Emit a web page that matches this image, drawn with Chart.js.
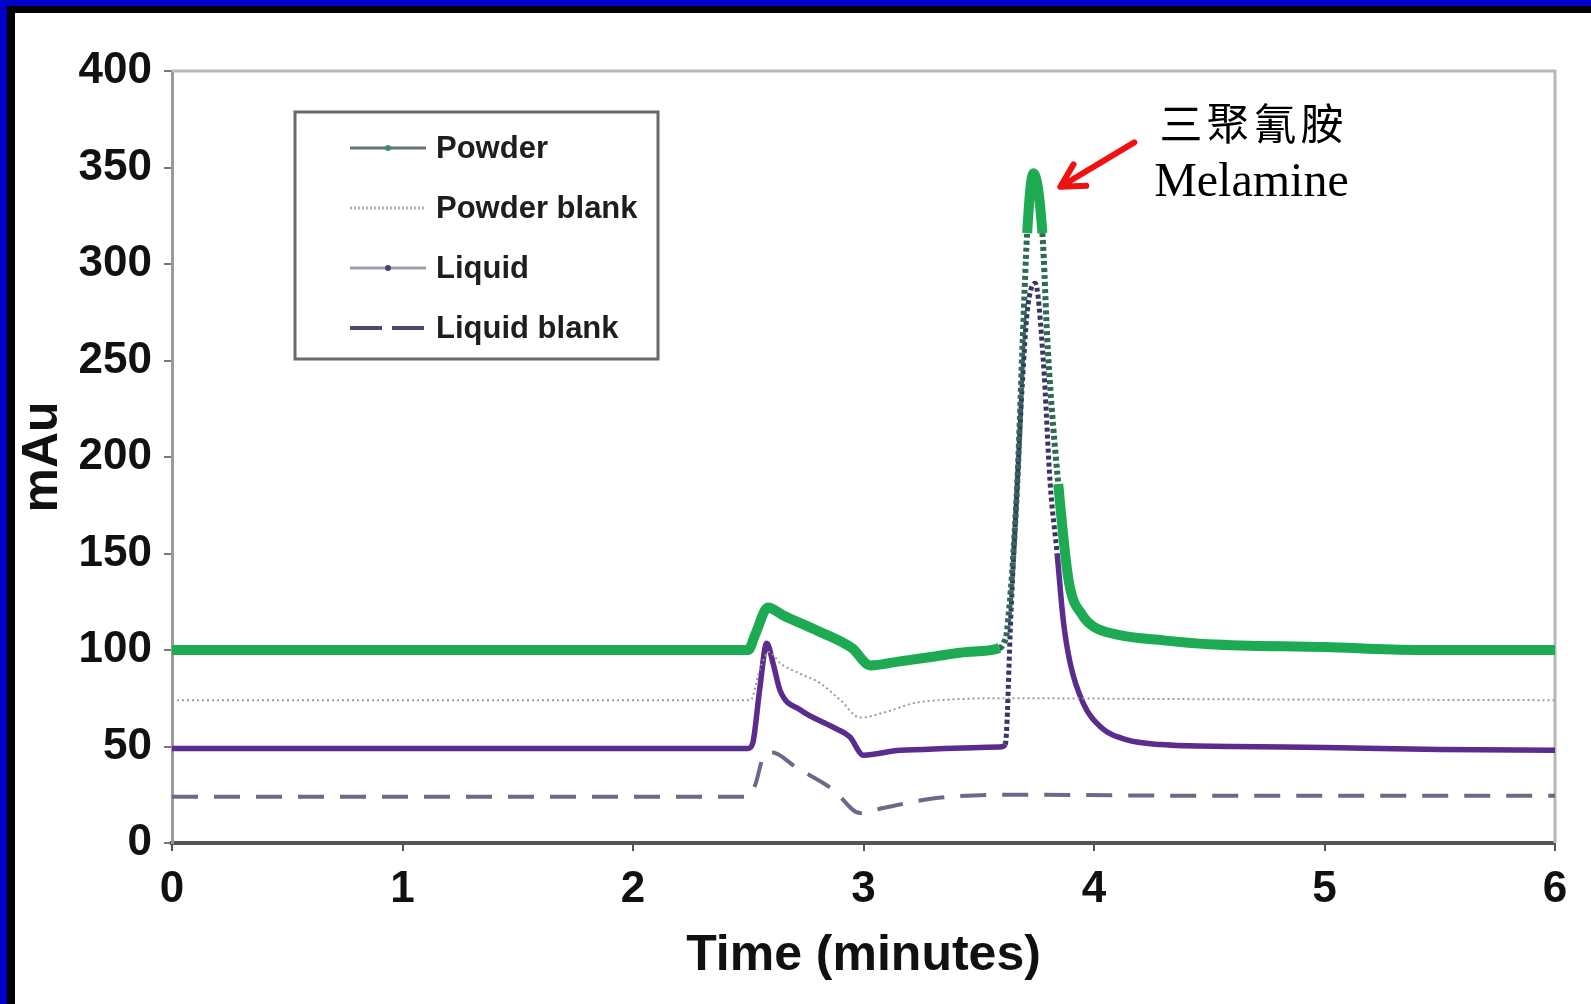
<!DOCTYPE html>
<html>
<head>
<meta charset="utf-8">
<script src="https://cdn.jsdelivr.net/npm/chart.js@4.4.1/dist/chart.umd.min.js"></script>
<style>
  html, body { margin: 0; padding: 0; background: #fff; overflow: hidden; }
  #wrap { position: absolute; left: 0; top: 0; width: 1591px; height: 1004px; }
  .edge { position: absolute; }
</style>
</head>
<body>
<div id="wrap"><canvas id="chart" width="1591" height="1004"></canvas></div>
<div class="edge" style="left:0;top:0;width:1591px;height:6px;background:#0000c8"></div>
<div class="edge" style="left:7px;top:6px;width:1584px;height:7px;background:#000"></div>
<div class="edge" style="left:0;top:0;width:7px;height:1004px;background:#0000c8"></div>
<div class="edge" style="left:7px;top:6px;width:8px;height:998px;background:#000"></div>
<script>
const xTicks = [0, 1, 2, 3, 4, 5, 6];
const yTicks = [0, 50, 100, 150, 200, 250, 300, 350, 400];

const seriesNames = ['Powder', 'Powder blank', 'Liquid', 'Liquid blank'];

const powderTime = [0, 2.50, 2.53, 2.586, 2.65, 2.80, 2.95, 3.03, 3.15, 3.30, 3.45, 3.59, 3.61, 3.623,
  3.667, 3.689, 3.71, 3.737, 3.776, 3.80, 3.845, 3.89, 3.95, 4.00, 4.10, 4.30, 4.50, 5.00, 5.40, 6.00];
const powderValues = [100, 100, 108, 122, 118, 110, 101, 92, 94, 96.5, 99, 101, 104, 110,
  186, 255, 316, 347, 316, 255, 186, 136, 118, 112, 108, 105, 103, 101.5, 100, 100];

const powderBlankTime = [0, 2.51, 2.55, 2.59, 2.64, 2.72, 2.81, 2.90, 2.985, 3.10, 3.22, 3.33, 3.60, 4.50, 6.00];
const powderBlankValues = [74, 74, 90, 99, 93, 88, 83, 74, 65, 68, 72.5, 74, 75, 74.5, 74];

const liquidTime = [0, 2.50, 2.52, 2.55, 2.58, 2.61, 2.638, 2.725, 2.868, 2.94, 3.00, 3.16, 3.59, 3.615,
  3.64, 3.667, 3.69, 3.71, 3.745, 3.78, 3.81, 3.84, 3.867, 3.897, 3.953, 4.03, 4.14, 4.29, 4.60, 5.00, 5.50, 6.00];
const liquidValues = [49, 49, 52, 80, 103.5, 92, 79, 69, 60, 55, 45.5, 48, 49.7, 51,
  120, 186, 240, 275, 290, 250, 186, 150, 115, 93, 72.5, 60, 53.5, 51, 50, 49.5, 48.5, 48];

const liquidBlankTime = [0, 2.50, 2.53, 2.565, 2.60, 2.71, 2.87, 2.985, 3.08, 3.30, 3.60, 4.50, 6.00];
const liquidBlankValues = [24, 24, 30, 44.5, 47, 39, 27.5, 15.5, 18, 23, 25, 24.5, 24.5];

function points(xs, ys) {
  return xs.map((x, i) => ({ x: x, y: ys[i] }));
}

// steep flanks of the melamine peak were drawn with dark markers
function onPeakFlank(ctx, low, rightLow) {
  const a = ctx.p0.parsed, b = ctx.p1.parsed;
  if (a.x < 3.55 || b.x > 3.95) return false;
  const lo = Math.min(a.y, b.y), hi = Math.max(a.y, b.y);
  if (hi > 335) return false;
  const isRight = a.y > b.y;
  return lo >= (isRight ? rightLow : low);
}

const tickFont = { family: 'Liberation Sans, Arial, sans-serif', size: 44, weight: 'bold' };
const titleFont = { family: 'Liberation Sans, Arial, sans-serif', size: 50, weight: 'bold' };

const frame = {
  id: 'frame',
  beforeDatasetsDraw(chart) {
    const { ctx, chartArea: a } = chart;
    ctx.save();
    ctx.strokeStyle = '#b8b8b8';
    ctx.lineWidth = 3;
    ctx.beginPath();
    ctx.moveTo(a.left, a.top);
    ctx.lineTo(a.right, a.top);
    ctx.lineTo(a.right, a.bottom);
    ctx.stroke();
    ctx.restore();
  }
};

const boxedLegend = {
  id: 'boxedLegend',
  afterDraw(chart) {
    const ctx = chart.ctx;
    const names = chart.data.datasets.map(d => d.label);
    const samples = [
      { color: '#66746e', width: 3, dash: [], mark: '#3d8f66' },
      { color: '#b0b0b0', width: 3, dash: [2, 2] },
      { color: '#a0a0ac', width: 3, dash: [], mark: '#4a3f7a' },
      { color: '#4e4a6c', width: 4, dash: [32, 10] }
    ];
    ctx.save();
    ctx.fillStyle = '#fff';
    ctx.fillRect(295, 112, 363, 247);
    ctx.strokeStyle = '#6a6a6a';
    ctx.lineWidth = 3;
    ctx.strokeRect(295, 112, 363, 247);
    ctx.font = 'bold 31px Liberation Sans, Arial, sans-serif';
    ctx.textBaseline = 'middle';
    names.forEach((name, i) => {
      const y = 148 + i * 60;
      const s = samples[i];
      ctx.strokeStyle = s.color;
      ctx.lineWidth = s.width;
      ctx.setLineDash(s.dash);
      ctx.beginPath();
      ctx.moveTo(350, y);
      ctx.lineTo(426, y);
      ctx.stroke();
      ctx.setLineDash([]);
      if (s.mark) {
        ctx.fillStyle = s.mark;
        ctx.beginPath();
        ctx.arc(388, y, 3, 0, Math.PI * 2);
        ctx.fill();
      }
      ctx.fillStyle = '#1e1e1e';
      ctx.fillText(name, 436, y + 1);
    });
    ctx.restore();
  }
};

const melamineNote = {
  id: 'melamineNote',
  afterDraw(chart) {
    const { ctx, scales: { x, y } } = chart;
    const tipX = x.getPixelForValue(3.854), tipY = y.getPixelForValue(340);
    const tailX = x.getPixelForValue(4.175), tailY = y.getPixelForValue(363);
    const ang = Math.atan2(tipY - tailY, tipX - tailX);
    ctx.save();
    ctx.strokeStyle = '#f01010';
    ctx.lineWidth = 6;
    ctx.lineCap = 'round';
    ctx.lineJoin = 'round';
    ctx.beginPath();
    ctx.moveTo(tailX, tailY);
    ctx.lineTo(tipX, tipY);
    const head = 26;
    ctx.moveTo(tipX + head * Math.cos(ang + Math.PI - 0.5), tipY + head * Math.sin(ang + Math.PI - 0.5));
    ctx.lineTo(tipX, tipY);
    ctx.lineTo(tipX + head * Math.cos(ang + Math.PI + 0.5), tipY + head * Math.sin(ang + Math.PI + 0.5));
    ctx.stroke();

    const cx = x.getPixelForValue(4.683);
    ctx.fillStyle = '#000';
    ctx.textAlign = 'center';
    ctx.textBaseline = 'middle';
    ctx.font = '43px "Noto Sans CJK TC", "Noto Sans CJK SC", sans-serif';
    if ('letterSpacing' in ctx) ctx.letterSpacing = '4px';
    ctx.fillText('三聚氰胺', cx + 2, y.getPixelForValue(372.5));
    if ('letterSpacing' in ctx) ctx.letterSpacing = '0px';
    ctx.textBaseline = 'alphabetic';
    ctx.font = '48px "Liberation Serif", "Times New Roman", serif';
    ctx.fillText('Melamine', cx, y.getPixelForValue(335));
    ctx.restore();
  }
};

new Chart(document.getElementById('chart'), {
  type: 'line',
  data: {
    datasets: [
      {
        label: seriesNames[0],
        data: points(powderTime, powderValues),
        borderColor: '#1eaa52',
        borderWidth: 10,
        pointRadius: 0,
        cubicInterpolationMode: 'monotone',
        segment: {
          borderColor: c => onPeakFlank(c, 100, 186) ? '#2f6a52' : undefined,
          borderDash: c => onPeakFlank(c, 100, 186) ? [4, 3] : undefined,
          borderWidth: c => onPeakFlank(c, 100, 186) ? 6 : undefined
        }
      },
      {
        label: seriesNames[1],
        data: points(powderBlankTime, powderBlankValues),
        borderColor: '#9a9a9a',
        borderWidth: 2,
        borderDash: [2, 3],
        pointRadius: 0,
        cubicInterpolationMode: 'monotone'
      },
      {
        label: seriesNames[2],
        data: points(liquidTime, liquidValues),
        borderColor: '#5a2c8e',
        borderWidth: 5.5,
        pointRadius: 0,
        cubicInterpolationMode: 'monotone',
        segment: {
          borderColor: c => onPeakFlank(c, 50, 136) ? '#3b3566' : undefined,
          borderDash: c => onPeakFlank(c, 50, 136) ? [4, 3] : undefined,
          borderWidth: c => onPeakFlank(c, 50, 136) ? 5 : undefined
        }
      },
      {
        label: seriesNames[3],
        data: points(liquidBlankTime, liquidBlankValues),
        borderColor: '#6e6888',
        borderWidth: 4,
        borderDash: [26, 16],
        pointRadius: 0,
        cubicInterpolationMode: 'monotone'
      }
    ]
  },
  options: {
    responsive: false,
    animation: false,
    devicePixelRatio: 1,
    layout: { padding: { left: 0, top: 71, right: 36, bottom: 0 } },
    plugins: {
      legend: { display: false },
      tooltip: { enabled: false }
    },
    scales: {
      x: {
        type: 'linear',
        min: 0,
        max: 6,
        afterBuildTicks: s => { s.ticks = xTicks.map(v => ({ value: v })); },
        afterFit: s => { s.height = 161; },
        ticks: { font: tickFont, color: '#111', padding: 12, maxRotation: 0 },
        grid: { drawOnChartArea: false, tickLength: 8, color: '#555', lineWidth: 2 },
        border: { color: '#555', width: 4 },
        title: { display: true, text: 'Time (minutes)', font: titleFont, color: '#111', padding: { top: 0, bottom: 18 } }
      },
      y: {
        min: 0,
        max: 400,
        afterBuildTicks: s => { s.ticks = yTicks.map(v => ({ value: v })); },
        afterFit: s => { s.width = 172; },
        ticks: { font: tickFont, color: '#111', padding: 12 },
        grid: { drawOnChartArea: false, tickLength: 8, color: '#777', lineWidth: 2 },
        border: { color: '#9a9a9a', width: 3 },
        title: { display: true, text: 'mAu', font: titleFont, color: '#111', padding: { top: 13, bottom: 0 } }
      }
    }
  },
  plugins: [frame, boxedLegend, melamineNote]
});
</script>
</body>
</html>
